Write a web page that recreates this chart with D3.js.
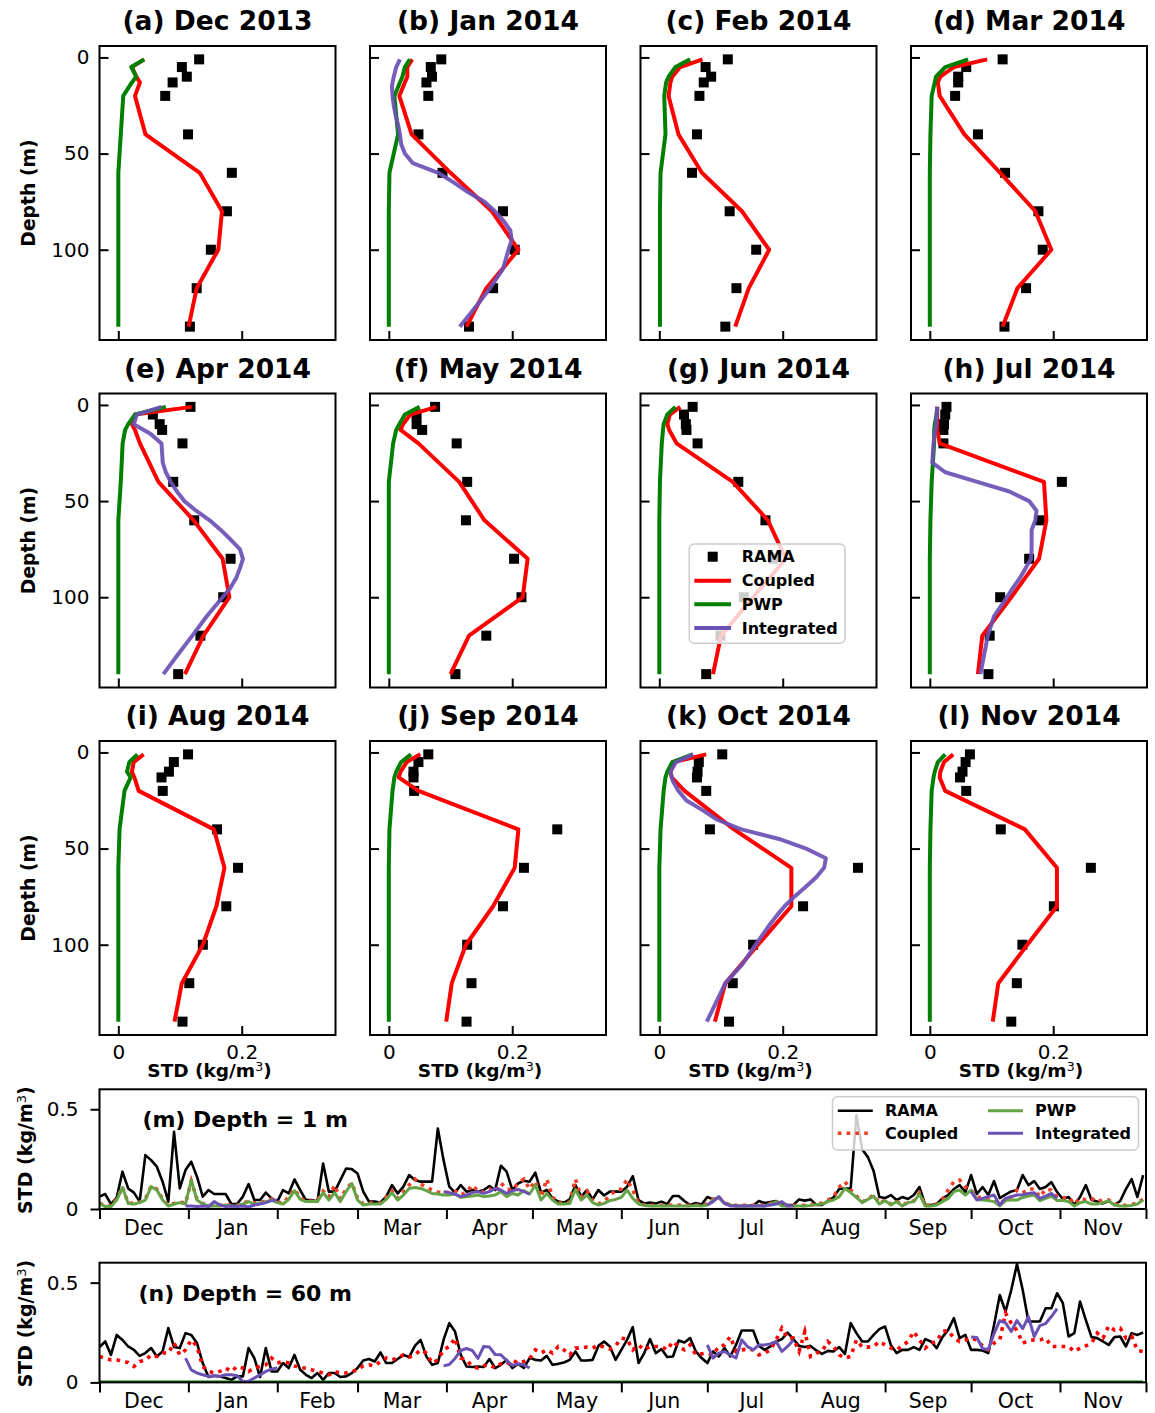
<!DOCTYPE html>
<html>
<head>
<meta charset="utf-8">
<script src="https://cdn.jsdelivr.net/npm/d3@7"></script>
<style>
  body { margin: 0; background: #fff; }
  svg text { font-family: "DejaVu Sans", sans-serif; }
</style>
</head>
<body>
<div id="chart-area"></div>
<script>

// SVG size
var width = 1155,
    height = 1413;

// ---------- profile panels (a)-(l) ----------
var panelTitles = ["(a) Dec 2013", "(b) Jan 2014", "(c) Feb 2014", "(d) Mar 2014",
                   "(e) Apr 2014", "(f) May 2014", "(g) Jun 2014", "(h) Jul 2014",
                   "(i) Aug 2014", "(j) Sep 2014", "(k) Oct 2014", "(l) Nov 2014"];

var ramaDepth  = [1, 5, 10, 13, 20, 40, 60, 80, 100, 120, 140];
var modelDepth = [1, 5, 10, 13, 20, 40, 60, 80, 100, 120, 140];
var intDepth   = [1, 5, 10, 15, 20, 25, 30, 35, 40, 45, 50, 55, 60, 65, 70, 75, 80, 85, 90, 95, 100, 110, 120, 130, 140];

var ramaStd = [
  [0.131, 0.103, 0.111, 0.088, 0.076, 0.113, 0.184, 0.176, 0.150, 0.127, 0.116],
  [0.085, 0.068, 0.070, 0.061, 0.064, 0.048, 0.087, 0.185, 0.204, 0.169, 0.130],
  [0.111, 0.075, 0.084, 0.072, 0.065, 0.061, 0.053, 0.114, 0.157, 0.125, 0.107],
  [0.118, 0.059, 0.046, 0.046, 0.041, 0.078, 0.122, 0.176, 0.183, 0.156, 0.121],
  [0.117, 0.056, 0.067, 0.071, 0.104, 0.089, 0.123, 0.182, 0.170, 0.133, 0.097],
  [0.075, 0.045, 0.045, 0.054, 0.110, 0.127, 0.125, 0.203, 0.215, 0.158, 0.108],
  [0.054, 0.040, 0.043, 0.044, 0.062, 0.128, 0.172, 0.184, 0.137, 0.099, 0.076],
  [0.027, 0.025, 0.023, 0.022, 0.022, 0.214, 0.179, 0.161, 0.114, 0.097, 0.095],
  [0.113, 0.090, 0.082, 0.070, 0.072, 0.160, 0.194, 0.175, 0.137, 0.115, 0.104],
  [0.064, 0.048, 0.040, 0.040, 0.041, 0.273, 0.219, 0.185, 0.127, 0.134, 0.126],
  [0.102, 0.064, 0.062, 0.061, 0.076, 0.082, 0.322, 0.233, 0.152, 0.119, 0.113],
  [0.065, 0.058, 0.053, 0.049, 0.059, 0.115, 0.261, 0.201, 0.150, 0.141, 0.132]
];

var coupledStd = [
  [0.042, 0.022, 0.029, 0.035, 0.027, 0.044, 0.132, 0.168, 0.162, 0.127, 0.114],
  [0.038, 0.030, 0.030, 0.026, 0.017, 0.037, 0.100, 0.167, 0.210, 0.158, 0.126],
  [0.070, 0.034, 0.021, 0.018, 0.015, 0.031, 0.069, 0.134, 0.178, 0.145, 0.123],
  [0.093, 0.039, 0.017, 0.013, 0.016, 0.056, 0.114, 0.171, 0.197, 0.142, 0.118],
  [0.119, 0.027, 0.022, 0.027, 0.035, 0.065, 0.122, 0.169, 0.180, 0.138, 0.108],
  [0.077, 0.035, 0.023, 0.019, 0.048, 0.114, 0.155, 0.225, 0.217, 0.130, 0.100],
  [0.034, 0.017, 0.013, 0.016, 0.028, 0.119, 0.176, 0.205, 0.152, 0.100, 0.087],
  [0.012, 0.012, 0.012, 0.012, 0.016, 0.185, 0.189, 0.177, 0.132, 0.085, 0.078],
  [0.041, 0.025, 0.022, 0.026, 0.033, 0.155, 0.172, 0.159, 0.137, 0.103, 0.091],
  [0.051, 0.029, 0.019, 0.016, 0.048, 0.210, 0.204, 0.169, 0.125, 0.102, 0.093],
  [0.076, 0.024, 0.018, 0.020, 0.041, 0.121, 0.214, 0.214, 0.160, 0.107, 0.090],
  [0.038, 0.023, 0.017, 0.016, 0.025, 0.154, 0.206, 0.206, 0.158, 0.111, 0.102]
];

var pwpStd = [
  [0.042, 0.021, 0.029, 0.022, 0.008, 0.004, 0.000, 0.000, 0.000, 0.000, 0.000],
  [0.034, 0.026, 0.022, 0.018, 0.009, 0.015, 0.001, 0.000, 0.000, 0.000, 0.000],
  [0.050, 0.026, 0.015, 0.011, 0.008, 0.010, 0.002, 0.001, 0.001, 0.001, 0.001],
  [0.062, 0.025, 0.010, 0.008, 0.003, 0.001, 0.000, 0.000, 0.000, 0.000, 0.000],
  [0.077, 0.027, 0.016, 0.011, 0.007, 0.004, 0.000, 0.000, 0.000, 0.000, 0.000],
  [0.050, 0.026, 0.017, 0.012, 0.007, 0.000, 0.000, 0.000, 0.000, 0.000, 0.000],
  [0.026, 0.013, 0.007, 0.006, 0.004, 0.001, 0.000, 0.000, 0.000, 0.000, 0.000],
  [0.012, 0.011, 0.008, 0.007, 0.007, 0.003, 0.001, 0.000, 0.000, 0.000, 0.000],
  [0.031, 0.018, 0.014, 0.020, 0.010, 0.002, 0.000, 0.000, 0.000, 0.000, 0.000],
  [0.036, 0.020, 0.012, 0.009, 0.006, 0.001, 0.000, 0.000, 0.000, 0.000, 0.000],
  [0.054, 0.021, 0.013, 0.010, 0.007, 0.002, 0.000, 0.000, 0.000, 0.000, 0.000],
  [0.025, 0.013, 0.008, 0.006, 0.003, 0.001, 0.000, 0.000, 0.000, 0.000, 0.000]
];

// integrated model only for Jan, Apr, Jul, Oct
var integratedStd = [
  null,
  [0.018, 0.012, 0.008, 0.005, 0.006, 0.008, 0.011, 0.015, 0.018, 0.020, 0.026, 0.039, 0.080, 0.105, 0.128, 0.155, 0.172, 0.186, 0.197, 0.199, 0.194, 0.185, 0.164, 0.140, 0.115],
  null, null,
  [0.070, 0.030, 0.025, 0.052, 0.070, 0.071, 0.072, 0.077, 0.085, 0.095, 0.107, 0.126, 0.148, 0.166, 0.182, 0.197, 0.202, 0.197, 0.191, 0.182, 0.169, 0.143, 0.120, 0.096, 0.073],
  null, null,
  [0.012, 0.011, 0.010, 0.008, 0.006, 0.005, 0.004, 0.025, 0.077, 0.129, 0.161, 0.173, 0.171, 0.165, 0.165, 0.165, 0.164, 0.155, 0.146, 0.135, 0.125, 0.104, 0.094, 0.088, 0.082],
  null, null,
  [0.055, 0.027, 0.018, 0.022, 0.031, 0.044, 0.070, 0.094, 0.133, 0.194, 0.238, 0.270, 0.267, 0.254, 0.237, 0.219, 0.203, 0.190, 0.178, 0.167, 0.156, 0.135, 0.107, 0.092, 0.077],
  null
];

var depthTicks = [0, 50, 100];
var stdTicks = [0, 0.2];

// ---------- time series (m), (n): one value every 2 days from 1 Dec 2013 ----------
var tsStart = new Date(2013, 11, 1),
    tsEnd = new Date(2014, 11, 1);
var tsStep = 2;

var rama1m = [
  0.062, 0.075, 0.025, 0.057, 0.187, 0.103, 0.082, 0.037, 0.27, 0.245,
  0.212, 0.137, 0.037, 0.387, 0.103, 0.195, 0.237, 0.162, 0.062, 0.095,
  0.075, 0.075, 0.075, 0.025, 0.025, 0.062, 0.125, 0.045, 0.045, 0.082,
  0.053, 0.037, 0.095, 0.078, 0.148, 0.095, 0.045, 0.045, 0.037, 0.228,
  0.087, 0.087, 0.145, 0.203, 0.2, 0.178, 0.087, 0.037, 0.037, 0.033,
  0.062, 0.12, 0.078, 0.112, 0.17, 0.145, 0.137, 0.137, 0.137, 0.403,
  0.245, 0.112, 0.082, 0.12, 0.087, 0.095, 0.087, 0.095, 0.115, 0.095,
  0.217, 0.187, 0.095, 0.128, 0.142, 0.137, 0.182, 0.082, 0.095, 0.053,
  0.037, 0.032, 0.048, 0.12, 0.062, 0.095, 0.048, 0.095,
  0.068, 0.087, 0.087, 0.087, 0.112, 0.165, 0.045, 0.028, 0.032, 0.028,
  0.037, 0.025, 0.065, 0.065, 0.04, 0.02, 0.03, 0.022, 0.06, 0.048,
  0.058, 0.03, 0.02, 0.015, 0.015, 0.015, 0.018, 0.04, 0.03, 0.035,
  0.04, 0.02, 0.02, 0.02, 0.048, 0.042, 0.048, 0.02, 0.02, 0.04,
  0.058, 0.1, 0.103, 0.103, 0.47, 0.3, 0.26, 0.19, 0.06, 0.055,
  0.07, 0.045, 0.06, 0.05, 0.07, 0.11, 0.02, 0.02, 0.025, 0.053,
  0.07, 0.1, 0.12, 0.085, 0.17, 0.075, 0.11, 0.07, 0.14, 0.055,
  0.072, 0.088, 0.095, 0.17, 0.12, 0.14, 0.1, 0.11, 0.135, 0.085,
  0.05, 0.06, 0.02, 0.06, 0.12, 0.045, 0.037, 0.028, 0.04, 0.02,
  0.04, 0.1, 0.15, 0.06, 0.17
];

var coupled1m = [
  0.03, 0.015, 0.015, 0.05, 0.11, 0.03, 0.028, 0.035, 0.05, 0.115,
  0.1, 0.05, 0.018, 0.028, 0.035, 0.028, 0.14, 0.05, 0.028, 0.018,
  0.018, 0.018, 0.022, 0.018, 0.018, 0.028, 0.04, 0.03, 0.032, 0.04,
  0.05, 0.035, 0.03, 0.06, 0.1, 0.055, 0.04, 0.04, 0.045, 0.09,
  0.06, 0.12, 0.05, 0.1, 0.13, 0.055, 0.025, 0.03, 0.03, 0.03,
  0.06, 0.09, 0.055, 0.085, 0.12, 0.15, 0.125, 0.11, 0.095, 0.085,
  0.08, 0.085, 0.09, 0.07, 0.085, 0.12, 0.09, 0.085, 0.1, 0.085,
  0.13, 0.1, 0.095, 0.13, 0.15, 0.1, 0.14, 0.06, 0.15, 0.06,
  0.03, 0.03, 0.035, 0.15, 0.06, 0.09, 0.04, 0.025,
  0.04, 0.065, 0.095, 0.1, 0.148, 0.095, 0.03, 0.02, 0.018, 0.018,
  0.018, 0.018, 0.02, 0.02, 0.018, 0.018, 0.02, 0.018, 0.025, 0.05,
  0.06, 0.03, 0.022, 0.018, 0.018, 0.018, 0.018, 0.02, 0.018, 0.028,
  0.04, 0.018, 0.018, 0.018, 0.018, 0.018, 0.02, 0.025, 0.03, 0.045,
  0.06, 0.11, 0.137, 0.095, 0.065, 0.035, 0.05, 0.07, 0.028, 0.045,
  0.025, 0.04, 0.018, 0.035, 0.04, 0.08, 0.018, 0.018, 0.025, 0.045,
  0.095, 0.137, 0.145, 0.11, 0.095, 0.06, 0.055, 0.05, 0.045, 0.025,
  0.05, 0.06, 0.095, 0.08, 0.1, 0.1, 0.06, 0.1, 0.095, 0.06,
  0.055, 0.06, 0.025, 0.055, 0.045, 0.053, 0.035, 0.048, 0.045, 0.025,
  0.018, 0.018, 0.022, 0.03, 0.05
];

var pwp1m = [
  0.028, 0.012, 0.012, 0.045, 0.108, 0.028, 0.025, 0.032, 0.045, 0.112,
  0.095, 0.045, 0.015, 0.025, 0.032, 0.025, 0.145, 0.045, 0.025, 0.015,
  0.015, 0.015, 0.02, 0.015, 0.015, 0.025, 0.037, 0.025, 0.028, 0.037,
  0.045, 0.032, 0.025, 0.048, 0.092, 0.048, 0.037, 0.037, 0.037, 0.082,
  0.045, 0.082, 0.037, 0.087, 0.128, 0.045, 0.02, 0.025, 0.025, 0.025,
  0.048, 0.082, 0.045, 0.07, 0.103, 0.108, 0.103, 0.092, 0.078, 0.075,
  0.07, 0.07, 0.075, 0.058, 0.062, 0.065, 0.07, 0.062, 0.065, 0.07,
  0.087, 0.062, 0.078, 0.07, 0.092, 0.075, 0.12, 0.045, 0.078, 0.045,
  0.025, 0.025, 0.028, 0.098, 0.045, 0.07, 0.032, 0.02,
  0.028, 0.042, 0.048, 0.058, 0.095, 0.053, 0.025, 0.018, 0.015, 0.015,
  0.015, 0.015, 0.015, 0.015, 0.015, 0.015, 0.018, 0.015, 0.02, 0.045,
  0.058, 0.028, 0.02, 0.015, 0.015, 0.015, 0.015, 0.018, 0.015, 0.025,
  0.037, 0.015, 0.015, 0.015, 0.015, 0.015, 0.018, 0.022, 0.025, 0.037,
  0.045, 0.062, 0.103, 0.082, 0.058, 0.032, 0.048, 0.065, 0.025, 0.042,
  0.02, 0.037, 0.015, 0.032, 0.037, 0.075, 0.015, 0.015, 0.02, 0.037,
  0.053, 0.087, 0.095, 0.07, 0.095, 0.048, 0.045, 0.042, 0.037, 0.015,
  0.042, 0.045, 0.045, 0.058, 0.065, 0.07, 0.042, 0.053, 0.065, 0.042,
  0.042, 0.037, 0.015, 0.032, 0.037, 0.025, 0.025, 0.032, 0.042, 0.02,
  0.015, 0.015, 0.018, 0.025, 0.045
];

var integrated1m = [
  { start: 30,  values: [0.015, 0.015, 0.012, 0.015, 0.012, 0.037, 0.02, 0.012, 0.015, 0.012, 0.015, 0.01, 0.02, 0.025, 0.032, 0.042, 0.045] },
  { start: 120, values: [0.087, 0.082, 0.075, 0.062, 0.07, 0.082, 0.087, 0.078, 0.087, 0.103, 0.095, 0.078, 0.092, 0.098, 0.087, 0.075] },
  { start: 212, values: [0.02, 0.037, 0.062, 0.028, 0.015, 0.015, 0.015, 0.015, 0.015, 0.015, 0.015, 0.02, 0.025, 0.037, 0.015, 0.015] },
  { start: 304, values: [0.087, 0.045, 0.053, 0.062, 0.07, 0.02, 0.053, 0.062, 0.07, 0.072, 0.078, 0.082, 0.053, 0.065, 0.078, 0.053] }
];

var rama60m = [
  0.177, 0.205, 0.138, 0.238, 0.213, 0.18, 0.163, 0.133, 0.147, 0.172,
  0.13, 0.155, 0.272, 0.177, 0.172, 0.247, 0.238, 0.197, 0.097, 0.027,
  0.033, 0.03, 0.022, 0.013, 0.03, 0.03, 0.172, 0.122, 0.027, 0.172,
  0.055, 0.055, 0.097, 0.072, 0.138, 0.063, 0.038, 0.022, 0.047, 0.013,
  0.047, 0.047, 0.027, 0.03, 0.047, 0.072, 0.11, 0.117, 0.105, 0.15,
  0.097, 0.097, 0.117, 0.138, 0.127, 0.183, 0.213, 0.13, 0.088, 0.097,
  0.213, 0.297, 0.255, 0.138, 0.08, 0.077, 0.08, 0.077, 0.117, 0.072,
  0.088, 0.113, 0.072, 0.093, 0.072, 0.122, 0.113, 0.11, 0.133, 0.088,
  0.093, 0.1, 0.113, 0.155, 0.11, 0.11, 0.113, 0.183,
  0.205, 0.18, 0.113, 0.163, 0.213, 0.277, 0.097, 0.147, 0.217, 0.147,
  0.167, 0.127, 0.13, 0.21, 0.2, 0.222, 0.155, 0.122, 0.097, 0.155,
  0.13, 0.172, 0.13, 0.188, 0.26, 0.26, 0.26, 0.183, 0.163, 0.18,
  0.205, 0.217, 0.25, 0.217, 0.183, 0.177, 0.183, 0.16, 0.143, 0.158,
  0.155, 0.177, 0.143, 0.297, 0.247, 0.205, 0.205, 0.238, 0.267, 0.28,
  0.188, 0.147, 0.163, 0.163, 0.177, 0.163, 0.217, 0.205, 0.172, 0.227,
  0.263, 0.322, 0.222, 0.238, 0.163, 0.163, 0.16, 0.147, 0.288, 0.438,
  0.355, 0.463, 0.593, 0.463, 0.305, 0.305, 0.305, 0.372, 0.372, 0.447,
  0.397, 0.23, 0.247, 0.405, 0.313, 0.227, 0.222, 0.205, 0.188, 0.227,
  0.23, 0.18, 0.247, 0.238, 0.25
];

var coupled60m = [
  0.13, 0.122, 0.113, 0.113, 0.105, 0.1, 0.08, 0.105, 0.11, 0.138,
  0.13, 0.147, 0.147, 0.197, 0.138, 0.163, 0.213, 0.18, 0.08, 0.055,
  0.047, 0.055, 0.072, 0.055, 0.08, 0.072, 0.055, 0.072, 0.08, 0.088,
  0.122, 0.097, 0.105, 0.097, 0.083, 0.072, 0.072, 0.063, 0.055, 0.047,
  0.038, 0.055, 0.047, 0.047, 0.055, 0.063, 0.083, 0.088, 0.083, 0.105,
  0.122, 0.113, 0.122, 0.138, 0.127, 0.138, 0.163, 0.147, 0.097, 0.113,
  0.163, 0.18, 0.222, 0.122, 0.113, 0.08, 0.072, 0.083, 0.088, 0.072,
  0.093, 0.088, 0.113, 0.097, 0.105, 0.117, 0.163, 0.147, 0.163, 0.147,
  0.18, 0.163, 0.138, 0.172, 0.172, 0.177, 0.172, 0.188,
  0.177, 0.167, 0.183, 0.222, 0.217, 0.163, 0.188, 0.163, 0.18, 0.18,
  0.18, 0.163, 0.205, 0.18, 0.163, 0.188, 0.138, 0.143, 0.147, 0.138,
  0.18, 0.188, 0.23, 0.155, 0.163, 0.167, 0.163, 0.138, 0.147, 0.163,
  0.213, 0.272, 0.222, 0.222, 0.155, 0.255, 0.13, 0.147, 0.155, 0.205,
  0.18, 0.138, 0.122, 0.13, 0.213, 0.177, 0.177, 0.18, 0.205, 0.188,
  0.172, 0.163, 0.183, 0.205, 0.255, 0.213, 0.172, 0.197, 0.205, 0.255,
  0.26, 0.222, 0.205, 0.213, 0.222, 0.213, 0.183, 0.163, 0.197, 0.213,
  0.347, 0.297, 0.26, 0.197, 0.21, 0.213, 0.213, 0.222, 0.18, 0.18,
  0.18, 0.18, 0.155, 0.172, 0.183, 0.197, 0.247, 0.222, 0.283, 0.263,
  0.272, 0.222, 0.233, 0.16, 0.155
];

// PWP at 60 m stays flat at ~0 all year (start day, step in days, values)
var pwp60m = { start: 0, step: 182, values: [0.002, 0.002, 0.002] };

var integrated60m = [
  { start: 30,  values: [0.122, 0.063, 0.047, 0.038, 0.03, 0.033, 0.03, 0.038, 0.038, 0.033, 0.005, 0.005, 0.022, 0.038, 0.055, 0.067, 0.072] },
  { start: 120, values: [0.083, 0.09, 0.12, 0.16, 0.17, 0.16, 0.12, 0.18, 0.177, 0.14, 0.138, 0.11, 0.085, 0.093, 0.088, 0.072] },
  { start: 212, values: [0.188, 0.122, 0.147, 0.155, 0.138, 0.122, 0.213, 0.18, 0.163, 0.188, 0.188, 0.193, 0.205, 0.155, 0.18, 0.213] },
  { start: 304, values: [0.228, 0.225, 0.17, 0.165, 0.245, 0.31, 0.298, 0.255, 0.31, 0.27, 0.33, 0.23, 0.285, 0.295, 0.33, 0.37] }
];

var seriesNames = ["RAMA", "Coupled", "PWP", "Integrated"];

// ---------- styles ----------
var colRed = "#ff0000", colGreen = "#008000", colPurple = "#6b50b5";
var tsGreen = "#64a346", tsRed = "#f23c23", tsPurple = "#6b50b5";

// Append SVG
var svg = d3.select("#chart-area").append("svg")
    .attr("width", width)
    .attr("height", height);

svg.append("rect").attr("width", width).attr("height", height).attr("fill", "#fff");

var defs = svg.append("defs");

// Profile geometry
var profLeft = 99.5, profColStep = 270.5, profW = 236;
var profTop = 46, profRowStep = 347.5, profH = 294;

var xProf = d3.scaleLinear().domain([-0.0305, 0.352]).range([0, profW]);
var yProf = d3.scaleLinear().domain([-5.95, 146.95]).range([0, profH]);

defs.append("clipPath").attr("id", "clip-prof")
  .append("rect").attr("width", profW).attr("height", profH);

var profLine = d3.line()
    .x(function(d){ return xProf(d[1]); })
    .y(function(d){ return yProf(d[0]); });

function styleAxis(sel, fontSize) {
  sel.select(".domain").remove();
  sel.attr("font-size", fontSize);
  sel.selectAll(".tick line").attr("stroke", "#000").attr("stroke-width", 2);
  sel.selectAll(".tick text").attr("fill", "#000");
}

function supLabel(sel, size) {
  sel.append("tspan").text("STD (kg/m");
  sel.append("tspan").attr("dy", -6).attr("font-size", size * 0.68).attr("font-weight", "normal").text("3");
  sel.append("tspan").attr("dy", 6).text(")");
}

panelTitles.forEach(function(title, i) {
  var col = i % 4, row = Math.floor(i / 4);
  var g = svg.append("g")
      .attr("transform", "translate(" + (profLeft + col * profColStep) + "," + (profTop + row * profRowStep) + ")");

  var plot = g.append("g").attr("clip-path", "url(#clip-prof)");

  // RAMA squares
  plot.selectAll("rect.rama")
    .data(d3.zip(ramaDepth, ramaStd[i]))
    .enter()
    .append("rect")
    .attr("class", "rama")
    .attr("x", function(d){ return xProf(d[1]) - 5; })
    .attr("y", function(d){ return yProf(d[0]) - 5; })
    .attr("width", 10)
    .attr("height", 10)
    .attr("fill", "#000");

  plot.append("path")
    .datum(d3.zip(modelDepth, coupledStd[i]))
    .attr("d", profLine)
    .attr("fill", "none").attr("stroke", colRed).attr("stroke-width", 4)
    .attr("stroke-linejoin", "round");

  plot.append("path")
    .datum(d3.zip(modelDepth, pwpStd[i]))
    .attr("d", profLine)
    .attr("fill", "none").attr("stroke", colGreen).attr("stroke-width", 4)
    .attr("stroke-linejoin", "round");

  if (integratedStd[i]) {
    plot.append("path")
      .datum(d3.zip(intDepth, integratedStd[i]))
      .attr("d", profLine)
      .attr("fill", "none").attr("stroke", colPurple).attr("stroke-width", 4)
      .attr("stroke-opacity", 0.92)
      .attr("stroke-linejoin", "round");
  }

  // axes (ticks point inward)
  var yAxis = d3.axisLeft(yProf).tickValues(depthTicks).tickSize(-9).tickPadding(10);
  if (col > 0) yAxis.tickFormat("");
  g.append("g").call(yAxis).call(styleAxis, 20);

  var xAxis = d3.axisBottom(xProf).tickValues(stdTicks).tickSize(-9).tickPadding(10)
      .tickFormat(function(d){ return d === 0 ? "0" : d3.format(".1f")(d); });
  if (row < 2) xAxis.tickFormat("");
  g.append("g").attr("transform", "translate(0," + profH + ")").call(xAxis).call(styleAxis, 20);

  // frame
  g.append("rect").attr("width", profW).attr("height", profH)
    .attr("fill", "none").attr("stroke", "#000").attr("stroke-width", 2);

  // title
  g.append("text")
    .attr("x", profW / 2).attr("y", -16)
    .attr("text-anchor", "middle")
    .attr("font-size", 26.5).attr("font-weight", "bold")
    .text(title);

  if (col === 0) {
    g.append("text")
      .attr("transform", "translate(" + (35 - profLeft) + "," + (profH / 2) + ") rotate(-90)")
      .attr("text-anchor", "middle")
      .attr("font-size", 18.8).attr("font-weight", "bold")
      .text("Depth (m)");
  }
  if (row === 2) {
    g.append("text")
      .attr("x", profW / 2 - 8).attr("y", profH + 42)
      .attr("text-anchor", "middle")
      .attr("font-size", 18.5).attr("font-weight", "bold")
      .call(supLabel, 18.5);
  }
});

// Legend inside panel (g)
var legG = svg.append("g").attr("transform", "translate(689.3,544)");
legG.append("rect").attr("width", 155.7).attr("height", 99.3).attr("rx", 5)
  .attr("fill", "#fff").attr("fill-opacity", 0.8)
  .attr("stroke", "#cccccc").attr("stroke-width", 1.5);
var legRowsY = [12.7, 36.7, 60.3, 84];
var legColors = [null, colRed, colGreen, colPurple];
seriesNames.forEach(function(name, k) {
  var y = legRowsY[k];
  if (k === 0) {
    legG.append("rect").attr("x", 23.4 - 5).attr("y", y - 5).attr("width", 10).attr("height", 10).attr("fill", "#000");
  } else {
    legG.append("line").attr("x1", 5).attr("x2", 41.7).attr("y1", y).attr("y2", y)
      .attr("stroke", legColors[k]).attr("stroke-width", 4);
  }
  legG.append("text").attr("x", 52.4).attr("y", y).attr("dy", "0.36em")
    .attr("font-size", 16).attr("font-weight", "bold").text(name);
});

// ---------- time series ----------
var tsLeft = 99.5, tsRight = 1146, tsW = tsRight - tsLeft, tsH = 119.7;
var tsTops = [1089.3, 1262.7];

var xTime = d3.scaleTime().domain([tsStart, tsEnd]).range([0, tsW]);
var yTs = d3.scaleLinear().domain([0, 0.6]).range([tsH, 0]);

defs.append("clipPath").attr("id", "clip-ts")
  .append("rect").attr("width", tsW).attr("height", tsH);

function toPoints(values, start, step) {
  return values.map(function(v, k) {
    return { date: d3.timeDay.offset(tsStart, start + k * step), value: v };
  });
}

var tsLine = d3.line()
    .x(function(d){ return xTime(d.date); })
    .y(function(d){ return yTs(d.value); });

var monthStarts = d3.timeMonth.range(tsStart, d3.timeDay.offset(tsEnd, 1));
var monthMids = d3.timeMonth.range(tsStart, tsEnd).map(function(m) {
  return new Date((m.getTime() + d3.timeMonth.offset(m, 1).getTime()) / 2);
});

var tsSets = [
  { label: "(m) Depth = 1 m",  labelX: 142.4, labelY: 37.4, rama: rama1m, coupled: coupled1m,
    pwp: [{ start: 0, step: tsStep, values: pwp1m }], integ: integrated1m, green: tsGreen, red: tsRed },
  { label: "(n) Depth = 60 m", labelX: 138.5, labelY: 38.3, rama: rama60m, coupled: coupled60m,
    pwp: [pwp60m], integ: integrated60m, green: colGreen, red: colRed }
];

tsSets.forEach(function(s, i) {
  var g = svg.append("g").attr("transform", "translate(" + tsLeft + "," + tsTops[i] + ")");
  var plot = g.append("g").attr("clip-path", "url(#clip-ts)");

  plot.append("path").datum(toPoints(s.rama, 0, tsStep)).attr("d", tsLine)
    .attr("fill", "none").attr("stroke", "#000").attr("stroke-width", 2.6).attr("stroke-linejoin", "round");

  plot.append("path").datum(toPoints(s.coupled, 0, tsStep)).attr("d", tsLine)
    .attr("fill", "none").attr("stroke", s.red).attr("stroke-width", 3.6)
    .attr("stroke-dasharray", "3.6,5.2");

  s.pwp.forEach(function(seg) {
    plot.append("path").datum(toPoints(seg.values, seg.start, seg.step)).attr("d", tsLine)
      .attr("fill", "none").attr("stroke", s.green).attr("stroke-width", 3).attr("stroke-linejoin", "round");
  });

  s.integ.forEach(function(seg) {
    plot.append("path").datum(toPoints(seg.values, seg.start, tsStep)).attr("d", tsLine)
      .attr("fill", "none").attr("stroke", tsPurple).attr("stroke-width", 3).attr("stroke-linejoin", "round");
  });

  // y axis (outward ticks)
  var yAxis = d3.axisLeft(yTs).tickValues([0, 0.5]).tickSize(9).tickPadding(12)
      .tickFormat(function(d){ return d === 0 ? "0" : "0.5"; });
  g.append("g").call(yAxis).call(styleAxis, 20);

  // month boundary ticks
  var xAxis = d3.axisBottom(xTime).tickValues(monthStarts).tickSize(10).tickFormat("");
  g.append("g").attr("transform", "translate(0," + tsH + ")").call(xAxis).call(styleAxis, 20);

  // month names centred in each month
  g.selectAll("text.month").data(monthMids).enter().append("text")
    .attr("class", "month")
    .attr("x", function(d){ return xTime(d); })
    .attr("y", tsH + 26)
    .attr("text-anchor", "middle")
    .attr("font-size", 20.5)
    .text(d3.timeFormat("%b"));

  g.append("rect").attr("width", tsW).attr("height", tsH)
    .attr("fill", "none").attr("stroke", "#000").attr("stroke-width", 2);

  g.append("text").attr("x", s.labelX - tsLeft).attr("y", s.labelY)
    .attr("font-size", 22).attr("font-weight", "bold").text(s.label);

  g.append("text")
    .attr("transform", "translate(" + (32 - tsLeft) + "," + (tsH / 2 + 1) + ") rotate(-90)")
    .attr("text-anchor", "middle")
    .attr("font-size", 19).attr("font-weight", "bold")
    .call(supLabel, 19);
});

// Legend for (m), two columns
var leg2 = svg.append("g").attr("transform", "translate(832.5,1096.7)");
leg2.append("rect").attr("width", 306).attr("height", 53.3).attr("rx", 5)
  .attr("fill", "#fff").attr("fill-opacity", 0.8)
  .attr("stroke", "#cccccc").attr("stroke-width", 1.5);
var leg2Items = [
  { name: seriesNames[0], x: 5.3,   y: 14,   color: "#000",   w: 2.6, dash: null },
  { name: seriesNames[1], x: 5.3,   y: 36.6, color: tsRed,    w: 3.6, dash: "3.6,5.2" },
  { name: seriesNames[2], x: 155.5, y: 14,   color: tsGreen,  w: 3,   dash: null },
  { name: seriesNames[3], x: 155.5, y: 36.6, color: tsPurple, w: 3,   dash: null }
];
leg2Items.forEach(function(it) {
  leg2.append("line").attr("x1", it.x).attr("x2", it.x + 35).attr("y1", it.y).attr("y2", it.y)
    .attr("stroke", it.color).attr("stroke-width", it.w)
    .attr("stroke-dasharray", it.dash);
  leg2.append("text").attr("x", it.x + 47.1).attr("y", it.y).attr("dy", "0.36em")
    .attr("font-size", 16).attr("font-weight", "bold").text(it.name);
});

</script>
</body>
</html>
